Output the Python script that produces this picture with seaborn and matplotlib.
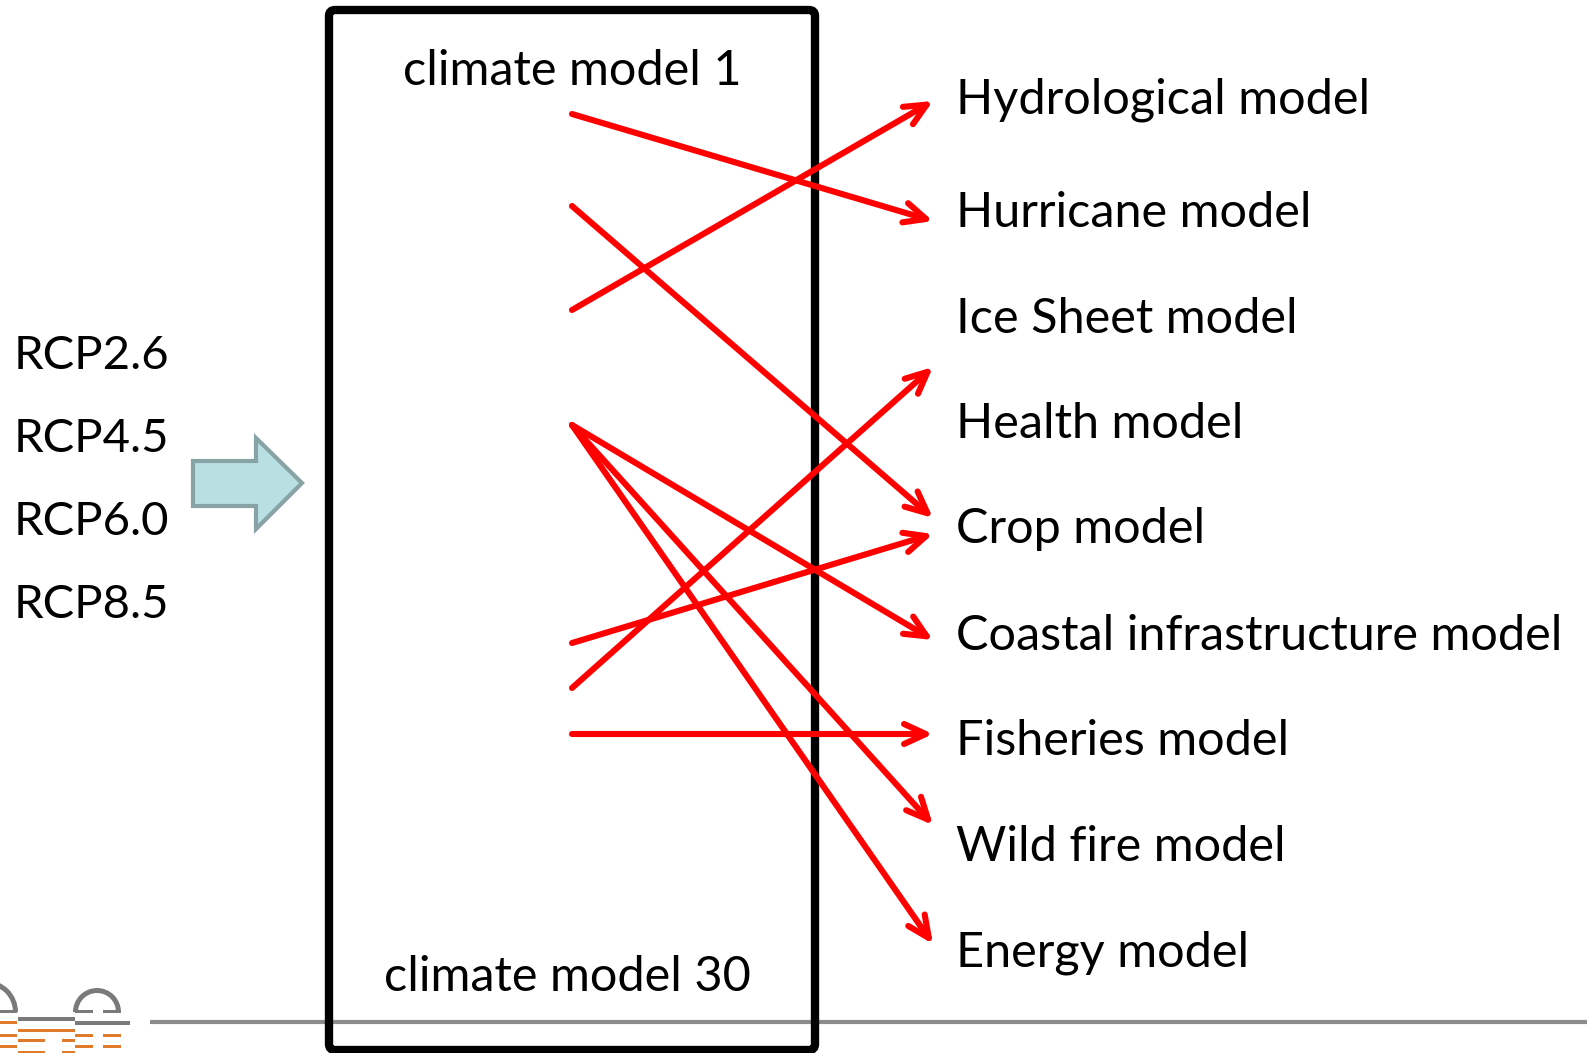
import matplotlib
matplotlib.use("Agg")
from matplotlib import pyplot as plt
from matplotlib.patches import FancyBboxPatch, Polygon, Wedge, Rectangle
import seaborn as sns

# scenarios on the left
scenarios = ["RCP2.6", "RCP4.5", "RCP6.0", "RCP8.5"]
scenario_y = [356, 439, 522, 605]

# impact models on the right
impact_models = ["Hydrological model", "Hurricane model", "Ice Sheet model", "Health model",
                 "Crop model", "Coastal infrastructure model", "Fisheries model",
                 "Wild fire model", "Energy model"]
impact_y = [100, 213, 319, 424, 529, 636, 741, 847, 953]

# links: start height inside the climate-model box -> arrow tip height
link_from = [114, 206, 310, 425, 425, 425, 643, 688, 734]
link_to = [221, 518, 101, 640, 825, 944, 534, 367, 734]

box_labels = ["climate model 1", "climate model 30"]

sns.set_theme(style="white")
plt.rcParams['font.family'] = ['Lato', 'DejaVu Sans']
plt.rcParams['text.color'] = 'black'

W, H = 1587, 1053
fig = plt.figure(figsize=(W / 100, H / 100), dpi=100)
ax = fig.add_axes([0, 0, 1, 1])
ax.set_xlim(0, W)
ax.set_ylim(H, 0)
ax.axis("off")

# bottom rule
ax.plot([150, W], [1022, 1022], color="#8c8c8c", lw=3, solid_capstyle="butt")

# climate model box
box = FancyBboxPatch((329, 10), 486, 1040, boxstyle="round,pad=0,rounding_size=6",
                     fc="none", ec="black", lw=6, zorder=2)
ax.add_patch(box)
ax.text(572, 71, box_labels[0], ha="center", va="center", fontsize=35)
ax.text(567, 977, box_labels[1], ha="center", va="center", fontsize=35)

# scenarios
for lab, y in zip(scenarios, scenario_y):
    ax.text(14, y, lab, ha="left", va="center", fontsize=34)

# block arrow
arrow = Polygon([(193, 461), (256, 461), (256, 438), (302, 483), (256, 529),
                 (256, 506), (193, 506)], closed=True, fc="#b8dfe2", ec="#87a3a5", lw=3)
ax.add_patch(arrow)

# impact models
for lab, y in zip(impact_models, impact_y):
    ax.text(956, y, lab, ha="left", va="center", fontsize=35)

# red links
for y0, y1 in zip(link_from, link_to):
    ax.annotate("", xy=(933, y1), xytext=(572, y0),
                arrowprops=dict(arrowstyle="->,head_length=1.3,head_width=0.6",
                                color="#ff0000", lw=4.4, shrinkA=0, shrinkB=0),
                zorder=3)

# small logo bottom-left
gray, orange = "#7a7a7a", "#e07b2a"
ax.add_patch(Wedge((-14, 1012), 32, 180, 360, width=5, fc=gray, ec="none"))
ax.add_patch(Wedge((97, 1012), 24, 180, 360, width=5, fc=gray, ec="none"))
ax.add_patch(Rectangle((0, 1010), 17, 3, fc=gray, ec="none"))
ax.add_patch(Rectangle((75, 1010), 18, 3, fc=gray, ec="none"))
ax.add_patch(Rectangle((103, 1010), 18, 3, fc=gray, ec="none"))
ax.add_patch(Rectangle((18, 1017), 57, 4, fc=gray, ec="none"))
ax.add_patch(Rectangle((75, 1021), 55, 4, fc=gray, ec="none"))
for (x0, y0, w) in [(0, 1021, 17), (18, 1029, 57), (0, 1034, 17), (75, 1034, 18),
                    (103, 1034, 18), (18, 1039, 27), (62, 1039, 13), (0, 1045, 17),
                    (75, 1045, 18), (103, 1045, 18), (18, 1051, 27), (62, 1051, 13)]:
    ax.add_patch(Rectangle((x0, y0), w, 3, fc=orange, ec="none"))

fig.savefig("out.png", dpi=100)
